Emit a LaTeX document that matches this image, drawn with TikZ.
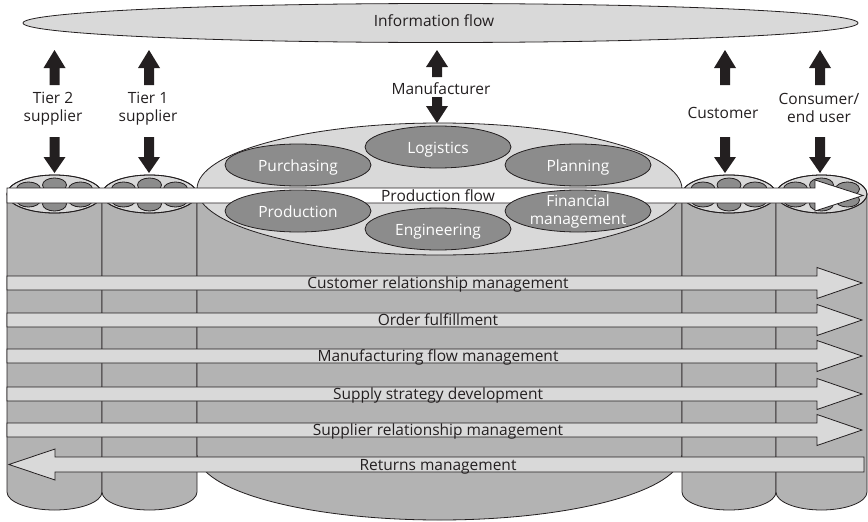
\documentclass[tikz,border=0pt]{standalone}
\usepackage{fontspec}
\setmainfont{Open Sans}
\usetikzlibrary{shapes.geometric}
\definecolor{ink}{HTML}{231F20}
\definecolor{pale}{HTML}{D9D9D9}
\definecolor{bodygray}{HTML}{B3B3B3}
\definecolor{cellgray}{HTML}{8C8C8C}
\newcommand\lblfont{\fontsize{15.5}{18}\selectfont}
% block arrow: centre x, tip y, head base y, tail y (page y, downwards)
\newcommand\blockarrow[4]{%
  \fill[ink] ({#1-5},-#4) -- ({#1-5},-#3) -- ({#1-11},-#3) -- (#1,-#2)
    -- ({#1+11},-#3) -- ({#1+5},-#3) -- ({#1+5},-#4) -- cycle;}
% small cylinder: centre x, half width
\newcommand\smallcyl[2]{%
  \draw[cylbody] ({#1-#2},-194) -- ({#1-#2},-492)
    arc[start angle=180,end angle=360,x radius=#2,y radius=18]
    -- ({#1+#2},-194) -- cycle;
  \draw[paleshape] (#1,-194) ellipse[x radius=#2,y radius=19];
  \begin{scope}
    \clip (#1,-194) ellipse[x radius=#2,y radius=19];
    \foreach \dx/\yy in {-26/189,0/185,26/189,-26/200,0/204,26/200}
      \draw[smallcell] ({#1+\dx},{-\yy}) ellipse[x radius=12,y radius=7];
  \end{scope}
  \draw[outline] (#1,-194) ellipse[x radius=#2,y radius=19];}
% process arrow pointing right: name, centre y, text
\newcommand\rightbar[3]{%
  \draw[paleshape] (7,{-#2+7}) -- (817,{-#2+7}) -- (817,{-#2+15.5}) -- (862,-#2)
    -- (817,{-#2-15.5}) -- (817,{-#2-7}) -- (7,{-#2-7}) -- cycle;
  \node[lbl] (#1) at (438,{-#2-5.5}) {#3};}
\begin{document}
\begin{tikzpicture}[x=1pt,y=1pt,
  outline/.style={draw=ink,line width=0.8pt},
  paleshape/.style={outline,fill=pale},
  cylbody/.style={outline,fill=bodygray},
  smallcell/.style={outline,fill=cellgray},
  cell/.style={ellipse,outline,fill=cellgray,minimum width=146pt,minimum height=42pt,inner sep=0pt},
  lbl/.style={font=\lblfont,text=ink,inner sep=0pt,anchor=base},
  wlbl/.style={lbl,text=white}]
\useasboundingbox (0,0) rectangle (868,-522);

% information flow band
\draw[paleshape] (440.5,-23) ellipse[x radius=417.5,y radius=19.5];
\node[lbl] (info) at (434,-27) {Information flow};

% members of the chain with their information arrows
\blockarrow{54.5}{50}{68}{85}
\blockarrow{54.5}{173}{157}{137}
\node[lbl] (t2a) at (53,-103.5) {Tier 2};
\node[lbl] (t2b) at (53,-121) {supplier};

\blockarrow{149}{50}{68}{85}
\blockarrow{149}{173}{157}{137}
\node[lbl] (t1a) at (148,-103.5) {Tier 1};
\node[lbl] (t1b) at (148,-121) {supplier};

\blockarrow{437}{50}{67}{77}
\blockarrow{437}{123}{106}{97}
\node[lbl] (manu) at (441,-94) {Manufacturer};

\blockarrow{725}{50}{68}{85}
\blockarrow{725}{173}{157}{137}
\node[lbl] (cust) at (723,-118) {Customer};

\blockarrow{820}{50}{68}{85}
\blockarrow{820}{173}{157}{137}
\node[lbl] (cona) at (819,-104) {Consumer/};
\node[lbl] (conb) at (819,-122.5) {end user};

% cylinders
\smallcyl{54.5}{47.5}
\smallcyl{149.5}{47.5}
\draw[cylbody] (197,-189) -- (197,-454)
  arc[start angle=180,end angle=360,x radius=242.5,y radius=66]
  -- (682,-189) -- cycle;
\draw[paleshape] (439.5,-189) ellipse[x radius=242.5,y radius=66];
\smallcyl{729}{47}
\smallcyl{821.5}{45.5}

% production flow
\draw[outline,fill=white] (7,-188) -- (815,-188) -- (815,-180) -- (863,-195.5)
  -- (815,-211) -- (815,-203) -- (7,-203) -- cycle;

% manufacturer functions
\node[cell] (purch) at (298,-165) {};
\node[cell] (logis) at (438,-147) {};
\node[cell] (plan)  at (578,-165) {};
\node[cell] (prod)  at (298,-211) {};
\node[cell] (fin)   at (578,-211) {};
\node[cell] (eng)   at (438,-229) {};
\node[wlbl] (purchT) at ([yshift=-6pt]purch.center) {Purchasing};
\node[wlbl] (logisT) at ([yshift=-6pt]logis.center) {Logistics};
\node[wlbl] (planT)  at ([yshift=-6pt]plan.center) {Planning};
\node[wlbl] (prodT)  at ([yshift=-6pt]prod.center) {Production};
\node[wlbl] (finT1)  at ([yshift=5pt]fin.center) {Financial};
\node[wlbl] (finT2)  at ([yshift=-13pt]fin.center) {management};
\node[wlbl] (engT)   at ([yshift=-6pt]eng.center) {Engineering};
\node[lbl] (pflow) at (438,-201) {Production flow};

% business processes
\rightbar{crm}{283}{Customer relationship management}
\rightbar{ofu}{320}{Order fulfillment}
\rightbar{mfm}{356}{Manufacturing flow management}
\rightbar{ssd}{394}{Supply strategy development}
\rightbar{srm}{430}{Supplier relationship management}
\draw[paleshape] (864,-457) -- (55,-457) -- (55,-449) -- (9,-464.5)
  -- (55,-480) -- (55,-472) -- (864,-472) -- cycle;
\node[lbl] (ret) at (438,-470) {Returns management};
\end{tikzpicture}
\end{document}
